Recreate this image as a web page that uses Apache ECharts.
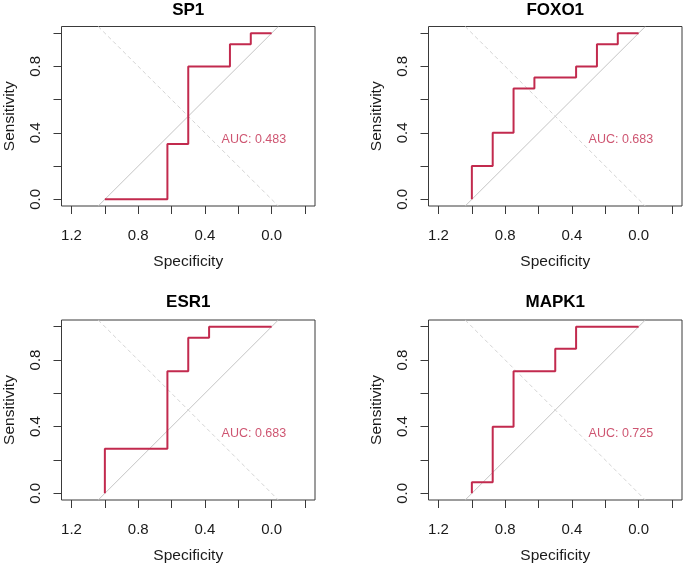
<!DOCTYPE html>
<html>
<head>
<meta charset="utf-8">
<script src="https://cdn.jsdelivr.net/npm/echarts@6/dist/echarts.min.js"></script>
<style>
    html, body { margin: 0; padding: 0; background: #ffffff; }
    #roc-chart { width: 685px; height: 566px; }
</style>
</head>
<body>
<div id="roc-chart"></div>
<script>
// one panel per gene, ROC vertices as (specificity, sensitivity)
var genes = ['SP1', 'FOXO1', 'ESR1', 'MAPK1'];
var aucValues = ['0.483', '0.683', '0.683', '0.725'];

var sp1Spec = [1, 0.625, 0.625, 0.5, 0.5, 0.25, 0.25, 0.125, 0.125, 0];
var sp1Sens = [0, 0, 0.333, 0.333, 0.8, 0.8, 0.933, 0.933, 1, 1];

var foxo1Spec = [1, 1, 0.875, 0.875, 0.75, 0.75, 0.625, 0.625, 0.375, 0.375, 0.25, 0.25, 0.125, 0.125, 0];
var foxo1Sens = [0, 0.2, 0.2, 0.4, 0.4, 0.667, 0.667, 0.733, 0.733, 0.8, 0.8, 0.933, 0.933, 1, 1];

var esr1Spec = [1, 1, 0.625, 0.625, 0.5, 0.5, 0.375, 0.375, 0];
var esr1Sens = [0, 0.267, 0.267, 0.733, 0.733, 0.933, 0.933, 1, 1];

var mapk1Spec = [1, 1, 0.875, 0.875, 0.75, 0.75, 0.5, 0.5, 0.375, 0.375, 0];
var mapk1Sens = [0, 0.067, 0.067, 0.4, 0.4, 0.733, 0.733, 0.867, 0.867, 1, 1];

var xTickValues = [-0.2, 0, 0.2, 0.4, 0.6, 0.8, 1, 1.2];
var xLabelValues = [0, 0.4, 0.8, 1.2];
var yTickValues = [0, 0.2, 0.4, 0.6, 0.8, 1];
var yLabelValues = [0, 0.4, 0.8];

var specList = [sp1Spec, foxo1Spec, esr1Spec, mapk1Spec];
var sensList = [sp1Sens, foxo1Sens, esr1Sens, mapk1Sens];

var chartDom = document.getElementById('roc-chart');
var rocChart = echarts.init(chartDom, null, { renderer: 'canvas' });

var fontName = '"Liberation Sans", Arial, sans-serif';
var rocColor = '#c22a4e';

// panel boxes in pixels
var boxes = [
    { left: 61.5, top: 26.5, width: 253.5, height: 179.5 },
    { left: 428.5, top: 26.5, width: 253.5, height: 179.5 },
    { left: 61.5, top: 320, width: 253.5, height: 180 },
    { left: 428.5, top: 320, width: 253.5, height: 180 }
];
var titleY = [10, 10, 302, 302];

var grids = [], xAxes = [], yAxes = [], series = [], graphics = [];

for (var i = 0; i < genes.length; i++) {
    var b = boxes[i];
    grids.push({
        left: b.left, top: b.top, width: b.width, height: b.height,
        show: true, borderColor: '#3a3a3a', borderWidth: 1,
        backgroundColor: 'transparent', containLabel: false
    });
    xAxes.push({
        type: 'value', gridIndex: i, inverse: true, position: 'bottom',
        min: -0.26, max: 1.26,
        name: 'Specificity', nameLocation: 'middle', nameGap: 48,
        nameTextStyle: { fontFamily: fontName, fontSize: 15.5, color: '#1a1a1a' },
        axisLine: { show: false, onZero: false },
        axisTick: { show: true, length: 8, inside: false, customValues: xTickValues,
            lineStyle: { color: '#3a3a3a', width: 1 } },
        axisLabel: { show: true, customValues: xLabelValues, margin: 22,
            fontFamily: fontName, fontSize: 15, color: '#1a1a1a',
            formatter: function (v) { return Number(v).toFixed(1); } },
        splitLine: { show: false }
    });
    yAxes.push({
        type: 'value', gridIndex: i, position: 'left',
        min: -0.04, max: 1.04,
        name: 'Sensitivity', nameLocation: 'middle', nameGap: 44, nameRotate: 90,
        nameTextStyle: { fontFamily: fontName, fontSize: 15.5, color: '#1a1a1a' },
        axisLine: { show: false, onZero: false },
        axisTick: { show: true, length: 8, inside: false, customValues: yTickValues,
            lineStyle: { color: '#3a3a3a', width: 1 } },
        axisLabel: { show: true, customValues: yLabelValues, rotate: 90, margin: 18,
            fontFamily: fontName, fontSize: 15, color: '#1a1a1a',
            formatter: function (v) { return Number(v).toFixed(1); } },
        splitLine: { show: false }
    });

    // reference diagonals
    series.push({
        type: 'line', xAxisIndex: i, yAxisIndex: i, symbol: 'none', silent: true,
        data: [[1.04, -0.04], [-0.04, 1.04]],
        lineStyle: { color: '#c4c4c4', width: 1 }
    });
    series.push({
        type: 'line', xAxisIndex: i, yAxisIndex: i, symbol: 'none', silent: true,
        data: [[1.04, 1.04], [-0.04, -0.04]],
        lineStyle: { color: '#d4d4d4', width: 1, type: [4, 3] }
    });

    var pts = [];
    for (var k = 0; k < specList[i].length; k++) {
        pts.push([specList[i][k], sensList[i][k]]);
    }
    series.push({
        type: 'line', xAxisIndex: i, yAxisIndex: i, symbol: 'none', silent: true,
        data: pts,
        lineStyle: { color: rocColor, width: 2 }
    });

    // AUC text
    series.push({
        type: 'scatter', xAxisIndex: i, yAxisIndex: i, symbolSize: 0, silent: true,
        data: [[0.30, 0.36]],
        label: { show: true, position: 'right', distance: 0,
            formatter: 'AUC: ' + aucValues[i],
            fontFamily: fontName, fontSize: 12.5, color: rocColor }
    });

    graphics.push({
        type: 'text', x: b.left + b.width / 2, y: titleY[i],
        style: { text: genes[i], align: 'center', verticalAlign: 'middle',
            font: 'bold 17px ' + fontName, fill: '#000000' }
    });
}

var option = {
    animation: false,
    backgroundColor: '#ffffff',
    grid: grids,
    xAxis: xAxes,
    yAxis: yAxes,
    series: series,
    graphic: graphics
};
rocChart.setOption(option);
</script>
</body>
</html>
